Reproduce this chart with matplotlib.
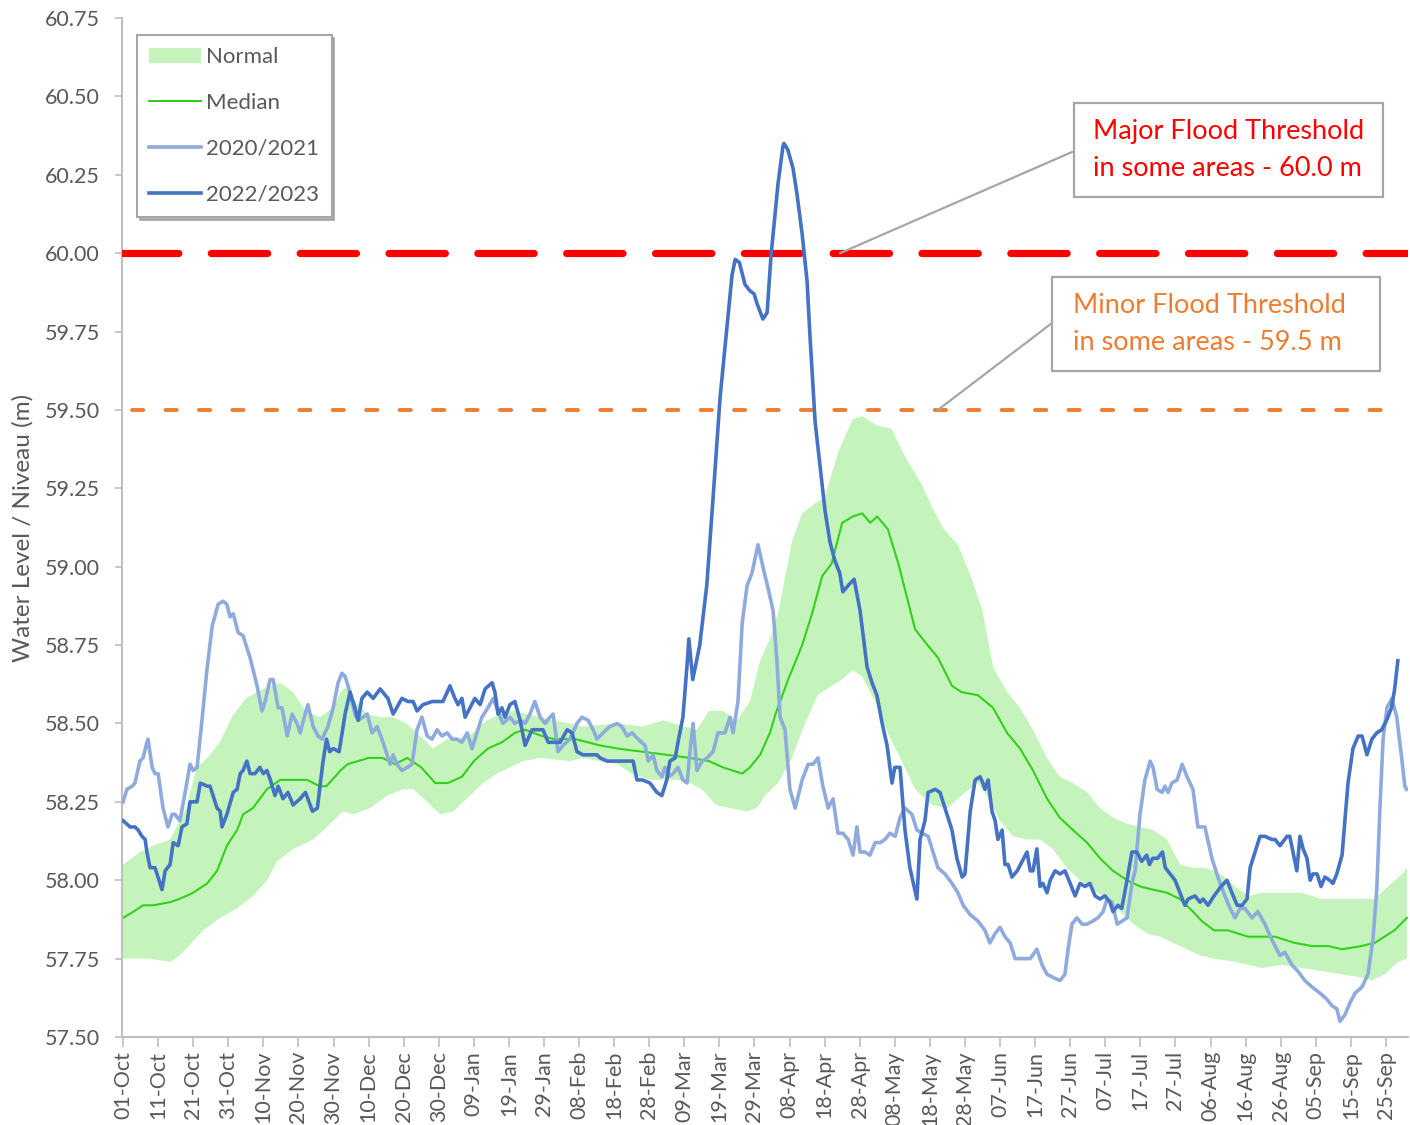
import numpy as np
import matplotlib
matplotlib.use("Agg")
import matplotlib.pyplot as plt
from matplotlib.patches import Patch, Rectangle
from matplotlib.lines import Line2D

plt.rcParams['font.family'] = ['Lato', 'DejaVu Sans']

# ---------------- data (day 0 = 01-Oct) ----------------
tick_days = list(range(0, 361, 10))
tick_labels = ["01-Oct", "11-Oct", "21-Oct", "31-Oct", "10-Nov", "20-Nov", "30-Nov",
               "10-Dec", "20-Dec", "30-Dec", "09-Jan", "19-Jan", "29-Jan", "08-Feb",
               "18-Feb", "28-Feb", "09-Mar", "19-Mar", "29-Mar", "08-Apr", "18-Apr",
               "28-Apr", "08-May", "18-May", "28-May", "07-Jun", "17-Jun", "27-Jun",
               "07-Jul", "17-Jul", "27-Jul", "06-Aug", "16-Aug", "26-Aug", "05-Sep",
               "15-Sep", "25-Sep"]

normal_hi_day = [0, 4.8, 8.6, 13.4, 18, 21, 24, 27.6, 31, 35, 40, 44.8, 48.5, 52, 56, 59.9, 62, 64.1,
                 65.6, 69.6, 73.3, 77, 80.9, 82.7, 86.6, 88.4, 92.4, 96.1, 99.8, 103.8, 107.5, 111.2,
                 115.2, 118.9, 122.6, 127.4, 131, 141, 148, 154, 160, 163.6, 167, 171, 175, 178.7,
                 181.6, 184.4, 186.7, 190.7, 193.6, 197, 200, 204, 208, 210.7, 215, 219, 223, 227.8,
                 230.6, 234, 238, 242, 245, 248, 252, 255.7, 259.4, 263.4, 267, 270.8, 274.8, 278.5,
                 282.2, 286.2, 290, 293.6, 297.6, 301.3, 305, 308.4, 313, 317, 320.7, 324.7, 330.4,
                 336, 341.8, 347.5, 353, 356.8, 360.6, 364.6, 366]
normal_hi_val = [58.05, 58.09, 58.11, 58.13, 58.23, 58.36, 58.39, 58.44, 58.52, 58.58, 58.61, 58.63,
                 58.60, 58.54, 58.52, 58.55, 58.60, 58.62, 58.58, 58.53, 58.52, 58.52, 58.50, 58.48,
                 58.44, 58.42, 58.45, 58.45, 58.47, 58.51, 58.53, 58.54, 58.53, 58.52, 58.51, 58.50,
                 58.49, 58.50, 58.49, 58.51, 58.49, 58.48, 58.54, 58.54, 58.51, 58.57, 58.70, 58.77,
                 58.85, 59.08, 59.17, 59.20, 59.22, 59.37, 59.47, 59.48, 59.45, 59.44, 59.35, 59.26,
                 59.19, 59.12, 59.07, 58.96, 58.86, 58.68, 58.60, 58.55, 58.48, 58.39, 58.33, 58.31,
                 58.28, 58.23, 58.20, 58.18, 58.17, 58.16, 58.13, 58.05, 58.04, 58.04, 58.02, 57.98,
                 57.95, 57.96, 57.96, 57.96, 57.94, 57.94, 57.94, 57.94, 57.98, 58.02, 58.04]

normal_lo_day = [0, 6.8, 13.4, 16.2, 22.8, 27.7, 32.5, 37.1, 41.1, 43.9, 48.5, 54.2, 58.2, 62.7, 65.6,
                 70.4, 75.3, 79.8, 82.7, 86.7, 90.4, 94.1, 98.9, 102.6, 106.6, 110.3, 114, 118.9,
                 127.4, 131, 141, 145, 150, 158, 161.6, 165, 169, 173, 178, 180.7, 183, 186.7, 190.7,
                 194.4, 198, 202, 205, 208, 210.7, 214.4, 218, 222, 225.8, 230.6, 235, 240, 243.7,
                 245.7, 250, 253.7, 257.7, 261.4, 265, 269, 272.8, 276.5, 280.5, 284.2, 288, 292,
                 295.6, 299.3, 303.3, 307, 311, 317, 324.7, 330.4, 336, 341.8, 347.5, 353, 356,
                 359.7, 363.4, 366]
normal_lo_val = [57.75, 57.75, 57.74, 57.76, 57.84, 57.88, 57.91, 57.95, 58.00, 58.06, 58.10, 58.13,
                 58.17, 58.22, 58.21, 58.23, 58.27, 58.29, 58.29, 58.25, 58.21, 58.22, 58.27, 58.31,
                 58.34, 58.36, 58.38, 58.39, 58.38, 58.39, 58.37, 58.34, 58.32, 58.32, 58.31, 58.29,
                 58.24, 58.23, 58.22, 58.23, 58.27, 58.31, 58.39, 58.50, 58.59, 58.62, 58.64, 58.67,
                 58.65, 58.57, 58.47, 58.38, 58.29, 58.24, 58.23, 58.28, 58.31, 58.28, 58.19, 58.14,
                 58.13, 58.13, 58.10, 58.04, 58.00, 57.97, 57.94, 57.90, 57.86, 57.83, 57.82, 57.80,
                 57.78, 57.76, 57.75, 57.74, 57.72, 57.73, 57.72, 57.71, 57.70, 57.69, 57.68, 57.70,
                 57.74, 57.75]

median_day = [0, 3, 5.7, 8.6, 13.4, 16, 20, 24, 26.8, 29.6, 32.5, 34.2, 37, 41, 44.8, 48.5, 52.5, 56,
              58, 62, 64, 70, 74, 77.5, 81, 85, 89, 92.6, 96.6, 100, 104, 108, 111.7, 114.6, 119.4,
              123, 129, 136, 141, 148, 155, 161.6, 167, 171, 176.5, 178.7, 181.6, 184.4, 186, 189.6,
              193.6, 196.4, 199.3, 202, 205, 208, 210.7, 213, 215, 218, 221, 225.8, 228.6, 232.3,
              236.3, 239, 243.7, 248, 252, 255.7, 259.4, 263.4, 267, 270.8, 274.8, 278.5, 282.2,
              286.2, 290, 293.6, 297.6, 301.3, 305, 307.5, 311, 315, 320.7, 324.7, 328.4, 334, 339,
              343.5, 347.5, 353, 356.8, 362.4, 366]
median_val = [57.88, 57.90, 57.92, 57.92, 57.93, 57.94, 57.96, 57.99, 58.03, 58.11, 58.16, 58.21,
              58.23, 58.29, 58.32, 58.32, 58.32, 58.30, 58.30, 58.35, 58.37, 58.39, 58.39, 58.37,
              58.39, 58.36, 58.31, 58.31, 58.33, 58.38, 58.42, 58.44, 58.47, 58.48, 58.46, 58.45,
              58.45, 58.43, 58.42, 58.41, 58.40, 58.39, 58.38, 58.36, 58.34, 58.36, 58.40, 58.47,
              58.53, 58.64, 58.75, 58.85, 58.97, 59.01, 59.14, 59.16, 59.17, 59.14, 59.16, 59.12,
              59.01, 58.80, 58.76, 58.71, 58.62, 58.60, 58.59, 58.55, 58.47, 58.42, 58.35, 58.26,
              58.20, 58.16, 58.12, 58.07, 58.03, 58.00, 57.98, 57.97, 57.96, 57.94, 57.90, 57.87,
              57.84, 57.84, 57.82, 57.82, 57.82, 57.80, 57.79, 57.79, 57.78, 57.79, 57.80, 57.84,
              57.88]

y2021_day = [0, 1.1, 2.6, 3.4, 4.8, 5.7, 6.8, 7.1, 8.3, 9.1, 10, 11.4, 12.8, 14, 14.8, 16.2, 17.7,
             19.1, 20, 21.1, 22.5, 23.9, 25.4, 27.1, 28.5, 29.6, 30.5, 31.4, 32.8, 34.2, 36.2, 38.2,
             39.6, 40.5, 41.9, 42.8, 44.2, 45.3, 46.8, 48.2, 49.6, 50.5, 51.9, 52.7, 54.2, 55.6,
             56.7, 58.4, 59.9, 61.3, 62.4, 63.3, 64.7, 66.1, 67, 68.4, 69.6, 71, 72.4, 73.8, 74.7,
             76.1, 77, 78.1, 79.5, 81, 82.4, 83.8, 85.2, 86.7, 88.1, 89.5, 90.9, 92.4, 93.8, 95.2,
             96.6, 98.1, 99.5, 100.3, 102.3, 104, 105.5, 106.9, 108.3, 110.3, 111.7, 113.2, 114.6,
             116, 117.4, 118.9, 120.3, 121.7, 122.6, 124, 125.4, 127.4, 129.4, 130.8, 132.6, 134,
             135.1, 136.8, 138.8, 140.8, 142.2, 143.7, 145.1, 146.8, 148.8, 149.7, 151.1, 152.2,
             153.6, 154.5, 155.4, 156.8, 158.2, 159.6, 160.8, 161.6, 162.5, 163.6, 165.1, 166.5,
             168.2, 169.6, 171.6, 173, 173.9, 175.3, 176.5, 177.9, 179.3, 181, 182.4, 183.9, 185.3,
             186.4, 187.3, 188.7, 190.1, 191.6, 193.6, 195.3, 196.7, 198.1, 199.5, 201, 202.4,
             203.8, 205.2, 206.7, 208.1, 209.2, 210.1, 211.5, 212.9, 214.4, 215.8, 217.2, 218.6,
             220.1, 221.5, 222.9, 224.9, 226.3, 227.8, 229.5, 230.9, 232.3, 234.3, 236.3, 238,
             239.5, 241.5, 243.7, 245.7, 247.1, 248.6, 250, 251.4, 252.9, 254.3, 255.7, 257.1,
             258.6, 260.5, 262, 263.4, 265.1, 267.1, 268.5, 269.4, 270.5, 271.9, 273.4, 274.8,
             276.5, 277.9, 279.4, 280.5, 281.9, 283.4, 284.8, 286.2, 287.6, 288.5, 289.9, 291.3,
             292.8, 293.6, 294.8, 296.2, 297, 297.9, 299, 300.5, 301.9, 303.3, 305, 306.4, 308.4,
             310.4, 312.1, 314.1, 315.6, 317, 318.4, 319.8, 321.8, 323.5, 325.5, 327.5, 329.8,
             331.2, 333.2, 334.9, 336.9, 338.9, 341.2, 343.2, 344.6, 346, 346.9, 348.3, 349.8,
             351.2, 353.2, 354.9, 356.3, 357.4, 358.3, 359.2, 360.3, 361.7, 363.1, 364.5, 365.4,
             365.9]
y2021_val = [58.25, 58.29, 58.30, 58.31, 58.38, 58.39, 58.44, 58.45, 58.36, 58.34, 58.34, 58.23,
             58.17, 58.21, 58.21, 58.19, 58.28, 58.37, 58.35, 58.36, 58.51, 58.67, 58.81, 58.88,
             58.89, 58.88, 58.84, 58.85, 58.79, 58.78, 58.71, 58.62, 58.54, 58.57, 58.64, 58.64,
             58.55, 58.55, 58.46, 58.53, 58.50, 58.47, 58.53, 58.56, 58.49, 58.46, 58.45, 58.49,
             58.55, 58.63, 58.66, 58.65, 58.60, 58.53, 58.51, 58.52, 58.53, 58.47, 58.49, 58.45,
             58.42, 58.37, 58.40, 58.37, 58.35, 58.36, 58.37, 58.48, 58.52, 58.46, 58.45, 58.48,
             58.46, 58.47, 58.45, 58.45, 58.44, 58.47, 58.42, 58.45, 58.52, 58.55, 58.58, 58.54,
             58.50, 58.52, 58.50, 58.51, 58.50, 58.53, 58.57, 58.52, 58.50, 58.52, 58.53, 58.41,
             58.43, 58.45, 58.50, 58.52, 58.51, 58.48, 58.45, 58.47, 58.49, 58.50, 58.49, 58.46,
             58.47, 58.45, 58.43, 58.38, 58.40, 58.35, 58.33, 58.36, 58.33, 58.34, 58.36, 58.32,
             58.31, 58.41, 58.50, 58.35, 58.38, 58.39, 58.41, 58.47, 58.47, 58.52, 58.47, 58.57,
             58.82, 58.94, 58.98, 59.07, 59.00, 58.93, 58.86, 58.70, 58.52, 58.48, 58.29, 58.23,
             58.32, 58.37, 58.37, 58.39, 58.30, 58.23, 58.26, 58.15, 58.15, 58.13, 58.08, 58.17,
             58.09, 58.09, 58.08, 58.12, 58.12, 58.13, 58.15, 58.14, 58.20, 58.23, 58.21, 58.16,
             58.15, 58.14, 58.09, 58.04, 58.02, 57.99, 57.96, 57.92, 57.89, 57.87, 57.84, 57.80,
             57.83, 57.85, 57.82, 57.80, 57.75, 57.75, 57.75, 57.75, 57.78, 57.73, 57.70, 57.69,
             57.68, 57.70, 57.78, 57.86, 57.88, 57.86, 57.86, 57.87, 57.88, 57.90, 57.94, 57.93,
             57.86, 57.87, 57.88, 57.99, 58.03, 58.21, 58.32, 58.38, 58.36, 58.29, 58.28, 58.30,
             58.28, 58.31, 58.32, 58.37, 58.33, 58.29, 58.17, 58.17, 58.07, 58.01, 57.95, 57.91,
             57.88, 57.91, 57.91, 57.88, 57.90, 57.86, 57.81, 57.76, 57.77, 57.73, 57.71, 57.68,
             57.66, 57.64, 57.62, 57.60, 57.59, 57.55, 57.57, 57.61, 57.64, 57.66, 57.70, 57.81,
             57.97, 58.23, 58.45, 58.55, 58.58, 58.52, 58.39, 58.30, 58.29]

y2023_day = [0, 2, 3.4, 4.3, 5.4, 6.3, 6.8, 7.7, 9.1, 11.1, 12, 13.4, 14.3, 15.7, 16.8, 18.2, 19.1,
             21.1, 22, 24, 24.8, 26.8, 27.7, 28.2, 29.6, 31.4, 32.5, 33.4, 34.2, 35.3, 36.2, 37.6,
             39, 40, 41, 42, 43.3, 44.2, 45.6, 47, 48.5, 50.5, 52, 54, 55.4, 56.9, 58, 58.9, 59.9,
             61.6, 63.3, 64.7, 66.1, 67, 68.1, 69.6, 71.3, 73.3, 75.5, 77, 79.5, 81.2, 82.7, 83.8,
             85.5, 88.1, 91.2, 93.2, 94.6, 95.5, 96.6, 97.5, 98.9, 100.3, 101.8, 103.2, 105.2, 106,
             106.9, 108, 108.9, 110.3, 111.7, 113.2, 114.6, 116.6, 118.3, 119.7, 121.2, 123.1,
             124.6, 126.6, 128, 129.4, 131.1, 135.1, 136, 138, 140.8, 145.4, 146.5, 148, 150.2,
             152.2, 153.6, 155, 155.9, 157.4, 158.2, 159.6, 160.8, 161.3, 162.4, 164.4, 166.4,
             168.2, 170.2, 172.2, 173.6, 174.5, 175.7, 177.3, 178.7, 179.9, 180.7, 182.4, 183.6,
             184.7, 185.3, 186.7, 188.1, 188.4, 189.5, 191, 192.1, 193.6, 195, 195.8, 197.3, 198.7,
             200.1, 201.5, 202.9, 204.3, 205.2, 206.7, 208.4, 210.1, 212.1, 213.5, 214.9, 216.4,
             217.8, 219.2, 220, 221.5, 222.9, 224.3, 226.3, 227.2, 228.6, 229.5, 231.5, 232.9,
             234.3, 236.3, 237.7, 239.2, 240, 241.5, 242.9, 244.3, 245.1, 245.7, 246.6, 247.7,
             248.6, 249.4, 250.6, 251.4, 252.3, 253.4, 254.9, 256.3, 257.7, 258.6, 259.4, 260.5,
             261.4, 262.2, 263.4, 264.3, 265.7, 267.1, 268.5, 270, 271.4, 272.8, 274.2, 275.6,
             277.1, 278.5, 279.9, 281.3, 282.2, 283.6, 284.7, 286.2, 287.6, 289, 290.4, 291.8,
             292.6, 293.5, 294.9, 296.3, 297.1, 298.5, 299.9, 301.3, 302.7, 303.6, 305.6, 307,
             307.9, 309.3, 311, 313, 314.7, 316.1, 317.6, 319, 320.4, 321.3, 322.7, 324.1, 325.5,
             327.5, 328.4, 329.8, 331.8, 332.6, 333.5, 334.6, 335.5, 336.4, 337.5, 338.4, 339.2,
             340.4, 341.5, 342.6, 344, 344.9, 346, 347.5, 348.3, 349.2, 350.6, 352.1, 353.2, 354.6,
             356, 357.4, 358.8, 360.2, 361.6, 362.5, 363.4]
y2023_val = [58.19, 58.17, 58.17, 58.16, 58.14, 58.13, 58.09, 58.04, 58.04, 57.97, 58.03, 58.05,
             58.12, 58.11, 58.17, 58.18, 58.25, 58.25, 58.31, 58.30, 58.30, 58.23, 58.22, 58.17,
             58.21, 58.28, 58.29, 58.34, 58.35, 58.38, 58.34, 58.34, 58.36, 58.34, 58.35, 58.32,
             58.27, 58.30, 58.26, 58.28, 58.24, 58.26, 58.28, 58.22, 58.23, 58.37, 58.45, 58.41,
             58.42, 58.41, 58.53, 58.60, 58.55, 58.51, 58.58, 58.60, 58.58, 58.61, 58.58, 58.53,
             58.58, 58.57, 58.57, 58.54, 58.56, 58.57, 58.57, 58.62, 58.58, 58.56, 58.58, 58.52,
             58.55, 58.58, 58.56, 58.61, 58.63, 58.60, 58.53, 58.55, 58.52, 58.56, 58.57, 58.51,
             58.43, 58.48, 58.48, 58.48, 58.44, 58.44, 58.44, 58.48, 58.47, 58.41, 58.40, 58.40,
             58.39, 58.38, 58.38, 58.38, 58.32, 58.32, 58.31, 58.28, 58.27, 58.32, 58.38, 58.39,
             58.44, 58.52, 58.69, 58.77, 58.64, 58.75, 58.94, 59.22, 59.54, 59.77, 59.93, 59.98,
             59.97, 59.90, 59.88, 59.87, 59.84, 59.79, 59.81, 59.99, 60.06, 60.22, 60.34, 60.35,
             60.33, 60.27, 60.19, 60.06, 59.91, 59.74, 59.46, 59.32, 59.18, 59.08, 59.02, 58.98,
             58.92, 58.94, 58.96, 58.86, 58.68, 58.63, 58.59, 58.50, 58.43, 58.31, 58.36, 58.36,
             58.16, 58.04, 57.94, 58.13, 58.19, 58.28, 58.29, 58.28, 58.23, 58.16, 58.07, 58.01,
             58.02, 58.22, 58.32, 58.33, 58.31, 58.29, 58.32, 58.22, 58.19, 58.13, 58.16, 58.05,
             58.05, 58.01, 58.03, 58.06, 58.09, 58.03, 58.03, 58.10, 57.98, 57.99, 57.96, 58.00,
             58.03, 58.02, 58.03, 57.99, 57.95, 57.99, 57.98, 57.99, 57.95, 57.94, 57.95, 57.93,
             57.90, 57.92, 57.91, 58.00, 58.09, 58.09, 58.06, 58.08, 58.05, 58.07, 58.07, 58.09,
             58.04, 58.02, 58.00, 57.96, 57.92, 57.94, 57.95, 57.93, 57.94, 57.92, 57.95, 57.98,
             58.00, 57.96, 57.92, 57.92, 57.94, 58.04, 58.09, 58.14, 58.14, 58.13, 58.13, 58.11,
             58.14, 58.14, 58.09, 58.03, 58.14, 58.10, 58.07, 58.00, 58.02, 58.02, 57.98, 58.01,
             58.00, 57.99, 58.02, 58.08, 58.19, 58.31, 58.42, 58.46, 58.46, 58.40, 58.45, 58.47,
             58.48, 58.51, 58.55, 58.61, 58.70]

major_level = 60.0
minor_level = 59.5
major_text = "Major Flood Threshold\nin some areas - 60.0 m"
minor_text = "Minor Flood Threshold\nin some areas - 59.5 m"

# ---------------- styling ----------------
GRAY_TXT = "#595959"
GRAY_AX = "#BFBFBF"
BAND = "#C4F4BC"
MEDIAN = "#33D119"
LIGHT = "#8FAADC"
DARK = "#4472C4"

W, H = 1410, 1125
fig = plt.figure(figsize=(W / 100, H / 100), dpi=100)
ax = fig.add_axes([122 / W, 1 - 1037 / H, (1408 - 122) / W, (1037 - 18) / H])

# band
ax.fill(np.concatenate([normal_hi_day, normal_lo_day[::-1]]),
        np.concatenate([normal_hi_val, normal_lo_val[::-1]]),
        color=BAND, lw=0, zorder=1)
ax.plot(median_day, median_val, color=MEDIAN, lw=1.5, zorder=2)
ax.plot(y2021_day, y2021_val, color=LIGHT, lw=2.6, zorder=3, solid_joinstyle='round')

# thresholds
ax.plot([-0.3, 366.3], [major_level, major_level], color="#FF0000", lw=5.2,
        dashes=(7.8, 4.5), dash_capstyle='round', zorder=4)
ax.plot([2.5, 363.5], [minor_level, minor_level], color="#ED7D31", lw=2.8,
        dashes=(2.9, 5.7), dash_capstyle='round', zorder=4)

ax.plot(y2023_day, y2023_val, color=DARK, lw=2.6, zorder=5, solid_joinstyle='round')

ax.set_xlim(-0.3, 366.3)
ax.set_ylim(57.5, 60.75)
ax.set_yticks(np.arange(57.5, 60.76, 0.25))
ax.set_yticklabels([f"{v:.2f}" for v in np.arange(57.5, 60.76, 0.25)])
ax.set_xticks(tick_days)
ax.set_xticklabels(tick_labels, rotation=90)

for s in ["top", "right"]:
    ax.spines[s].set_visible(False)
for s in ["left", "bottom"]:
    ax.spines[s].set_color(GRAY_AX)
    ax.spines[s].set_linewidth(1.5)
ax.tick_params(axis='y', colors=GRAY_AX, labelcolor=GRAY_TXT, labelsize=15.5,
               length=5, width=1.2, pad=11)
ax.tick_params(axis='x', colors=GRAY_AX, labelcolor=GRAY_TXT, labelsize=15.5,
               length=7, width=1.2, pad=3)

ax.set_ylabel("Water Level / Niveau (m)", fontsize=17.5, color=GRAY_TXT)
ax.yaxis.set_label_coords(-0.0687, 0.5)

# legend
handles = [Patch(facecolor=BAND, edgecolor='none'),
           Line2D([], [], color=MEDIAN, lw=1.5),
           Line2D([], [], color=LIGHT, lw=2.6),
           Line2D([], [], color=DARK, lw=2.6)]
leg = ax.legend(handles, ["Normal", "Median", "2020/2021", "2022/2023"],
                loc='upper left', bbox_to_anchor=(15 / 1286, 1 - 17 / 1019),
                borderaxespad=0, fontsize=16, labelcolor=GRAY_TXT,
                handlelength=2.35, handleheight=0.7, handletextpad=0.22,
                labelspacing=1.16, borderpad=0.55, fancybox=False,
                frameon=True, edgecolor="#A6A6A6", framealpha=1,
                shadow={'color': '0.55', 'alpha': 0.6})
leg.get_frame().set_linewidth(1.5)
leg.set_zorder(10)

# annotation boxes (figure pixel based)
def fx(px):
    return px / W

def fy(py):
    return 1 - py / H

for (x0, y0, x1, y1, txt, col, tx, anchor_day, anchor_lvl, lx, ly) in [
        (1074, 103, 1383, 197, major_text, "#FF0000", 1093, 204.4, major_level, 1072, 152),
        (1052, 277, 1380, 371, minor_text, "#ED7D31", 1073, 232.3, minor_level, 1052, 323)]:
    fig.patches.append(Rectangle((fx(x0), fy(y1)), fx(x1) - fx(x0), fy(y0) - fy(y1),
                                 transform=fig.transFigure, facecolor='white',
                                 edgecolor="#A6A6A6", lw=1.6, zorder=6))
    fig.text(fx(tx), fy((y0 + y1) / 2), txt, color=col, fontsize=19.5,
             ha='left', va='center', linespacing=1.6, zorder=7)
    ax.annotate("", xy=(anchor_day, anchor_lvl), xycoords='data',
                xytext=(fx(lx), fy(ly)), textcoords='figure fraction',
                arrowprops=dict(arrowstyle='-', color="#A6A6A6", lw=1.6,
                                shrinkA=0, shrinkB=0), zorder=6)

fig.savefig("out.png", dpi=100)
